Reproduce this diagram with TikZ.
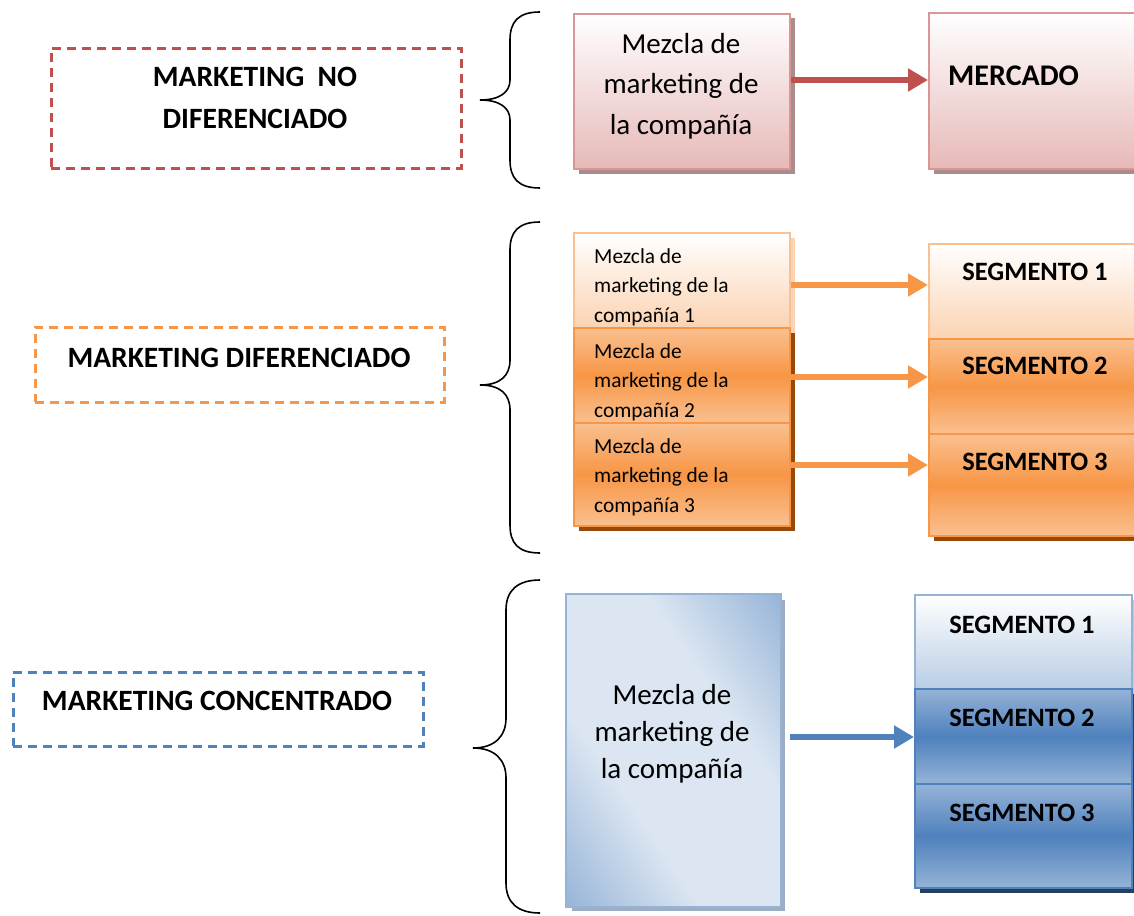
\documentclass[tikz,border=0pt]{standalone}
\usepackage{fontspec}
\setmainfont{Carlito}
\usetikzlibrary{arrows.meta}
\definecolor{redd}{HTML}{C0504D}
\definecolor{pinkb}{HTML}{E6B9B8}
\definecolor{pinkline}{HTML}{D99694}
\definecolor{pinksh}{HTML}{A98C8C}
\definecolor{orgd}{HTML}{F79646}
\definecolor{orgl}{HTML}{FAC090}
\definecolor{orgxl}{HTML}{FBD3B2}
\definecolor{orgsh}{HTML}{984807}
\definecolor{blud}{HTML}{4F81BD}
\definecolor{blul}{HTML}{95B3D7}
\definecolor{bluxl}{HTML}{DCE6F2}
\definecolor{blusx}{HTML}{B9CDE5}
\definecolor{blush}{HTML}{243F60}
\definecolor{blugray}{HTML}{9DAEC4}
\pgfdeclareverticalshading{bluband}{100bp}{color(0bp)=(blul); color(25bp)=(blul); color(41bp)=(bluxl); color(59bp)=(bluxl); color(75bp)=(blul); color(100bp)=(blul)}
\begin{document}
\begin{tikzpicture}[x=1pt,y=-1pt,
  dashbox/.style={draw=#1, line width=2.6pt, dash pattern=on 9pt off 6pt, anchor=north west, inner sep=0pt},
  sbox/.style={draw=#1, line width=2pt, anchor=north west, inner sep=0pt},
  shad/.style={preaction={fill=#1, transform canvas={xshift=4.5pt,yshift=-4.5pt}}},
  bigtxt/.style={font=\fontsize{29}{40.5}\selectfont, align=center, anchor=base, inner sep=0pt},
  smalltxt/.style={font=\fontsize{21.4}{29.5}\selectfont, align=left, anchor=base west, inner sep=0pt},
  boldtxt/.style={font=\bfseries\fontsize{29.5}{41.6}\selectfont, align=center, anchor=base, inner sep=0pt},
  segtxt/.style={font=\bfseries\fontsize{26.5}{32}\selectfont, anchor=base, inner sep=0pt},
  arr/.style={draw=#1, line width=6.5pt, -{Triangle[length=20pt,width=22pt]}},
  brace/.style={draw=black, line width=1.6pt},
]
\useasboundingbox (0,0) rectangle (1134,915);
\clip (0,0) rectangle (1134,915);

% ---------- row 1 ----------
\node[dashbox=redd, minimum width=410pt, minimum height=120pt] (nd) at (50,47) {};
\node[boldtxt] (ndt) at (255,128.3) {MARKETING\ \ NO\\DIFERENCIADO};
\draw[brace] (540,12) .. controls (518,12) and (510,22) .. (510,40) -- (510,80)
  .. controls (510,92) and (500,100) .. (480,100)
  .. controls (500,100) and (510,108) .. (510,120) -- (510,160)
  .. controls (510,178) and (518,188) .. (540,188);
\node[sbox=pinkline, shad=pinksh, top color=white, bottom color=pinkb, minimum width=216pt, minimum height=155pt] (m1) at (573,13) {};
\node[bigtxt] (m1t) at (681,134) {Mezcla de\\marketing de\\la compañía};
\node[sbox=pinkline, shad=pinksh, top color=white, bottom color=pinkb, minimum width=240pt, minimum height=156pt] (merc) at (928,12) {};
\node[segtxt, font=\bfseries\fontsize{30}{36}\selectfont, anchor=base west] (merct) at (948,86) {MERCADO};
\draw[arr=redd] ([yshift=11.5pt]m1.east) -- ([yshift=11.5pt]m1.east -| merc.west);

% ---------- row 2 ----------
\node[dashbox=orgd, minimum width=409pt, minimum height=75pt] (dif) at (34,326) {};
\node[boldtxt] (dift) at (239,367) {MARKETING DIFERENCIADO};
\draw[brace] (540,222) .. controls (518,222) and (510,232) .. (510,250) -- (510,360)
  .. controls (510,376) and (500,385) .. (480,385)
  .. controls (500,385) and (510,394) .. (510,410) -- (510,525)
  .. controls (510,543) and (518,553) .. (540,553);
\node[sbox=orgl, shad=orgxl, top color=white, bottom color=orgxl, minimum width=216pt, minimum height=95pt] (o1) at (573,232) {};
\node[smalltxt] (o1t) at (594,322) {Mezcla de\\marketing de la\\compañía 1};
\node[sbox=orgd, shad=orgsh, top color=orgl, bottom color=orgl, middle color=orgd, minimum width=216pt, minimum height=95pt] (o2) at (573,327) {};
\node[smalltxt] (o2t) at (594,417) {Mezcla de\\marketing de la\\compañía 2};
\node[sbox=orgd, shad=orgsh, top color=orgl, bottom color=orgl, middle color=orgd, minimum width=216pt, minimum height=103pt] (o3) at (573,422) {};
\node[smalltxt] (o3t) at (594,512) {Mezcla de\\marketing de la\\compañía 3};
\node[sbox=orgl, shad=orgxl, top color=white, bottom color=orgxl, minimum width=240pt, minimum height=95pt] (s1) at (928,243) {};
\node[segtxt] (s1t) at (1035,280) {SEGMENTO 1};
\node[sbox=orgd, shad=orgsh, top color=orgl, bottom color=orgl, middle color=orgd, minimum width=240pt, minimum height=95pt] (s2) at (928,338) {};
\node[segtxt] (s2t) at (1035,374) {SEGMENTO 2};
\node[sbox=orgd, shad=orgsh, top color=orgl, bottom color=orgl, middle color=orgd, minimum width=240pt, minimum height=102pt] (s3) at (928,433) {};
\node[segtxt] (s3t) at (1035,470) {SEGMENTO 3};
\draw[arr=orgd] ([yshift=-4.5pt]o1.east) -- ([yshift=-4.5pt]o1.east -| s1.west);
\draw[arr=orgd] ([yshift=-1.5pt]o2.east) -- ([yshift=-1.5pt]o2.east -| s2.west);
\draw[arr=orgd] ([yshift=9.5pt]o3.east) -- ([yshift=9.5pt]o3.east -| s3.west);

% ---------- row 3 ----------
\node[dashbox=blud, minimum width=410pt, minimum height=74pt] (con) at (12,671) {};
\node[boldtxt] (cont) at (217,710) {MARKETING CONCENTRADO};
\draw[brace] (540,580) .. controls (518,580) and (506,590) .. (506,610) -- (506,718)
  .. controls (506,736) and (495,748) .. (473,748)
  .. controls (495,748) and (506,760) .. (506,778) -- (506,883)
  .. controls (506,903) and (518,913) .. (540,913);
\node[sbox=blul, shad=blugray, fill=bluxl, minimum width=213pt, minimum height=311pt] (bb) at (566,594) {};
\begin{scope}
  \clip (bb.south west) rectangle (bb.north east);
  \shade[transform canvas={shift={(bb.center)}, rotate=-55.6}, shading=bluband]
    (-400pt,-180pt) rectangle (400pt,180pt);
\end{scope}
\draw[blul, line width=2pt] (bb.south west) rectangle (bb.north east);
\node[bigtxt, font=\fontsize{29}{37}\selectfont] (bbt) at (672,778) {Mezcla de\\marketing de\\la compañía};
\node[sbox=blul, shad=blusx, top color=white, bottom color=blusx, minimum width=217pt, minimum height=94pt] (b1) at (914,594) {};
\node[segtxt] (b1t) at (1022,633) {SEGMENTO 1};
\node[sbox=blud, shad=blush, top color=blul, bottom color=blul, middle color=blud, minimum width=217pt, minimum height=95pt] (b2) at (914,688) {};
\node[segtxt] (b2t) at (1022,726) {SEGMENTO 2};
\node[sbox=blud, shad=blush, top color=blul, bottom color=blul, middle color=blud, minimum width=217pt, minimum height=104pt] (b3) at (914,783) {};
\node[segtxt] (b3t) at (1022,821) {SEGMENTO 3};
\draw[arr=blud] ([xshift=9pt,yshift=13.5pt]bb.east) -- ([yshift=13.5pt]bb.east -| b2.west);
\end{tikzpicture}
\end{document}
